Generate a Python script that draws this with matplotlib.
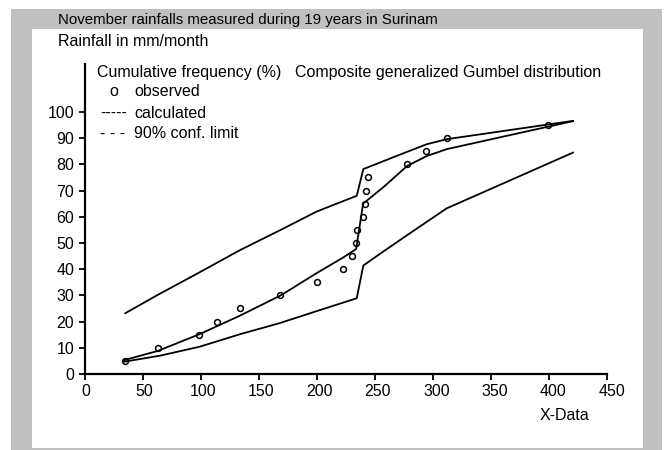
import matplotlib
matplotlib.use("Agg")
import matplotlib.pyplot as plt
import matplotlib.transforms as mtransforms
from matplotlib.patches import Rectangle

plt.rcParams['font.family'] = ['Liberation Sans', 'DejaVu Sans']

# observed points (rainfall mm/month, cumulative frequency %)
obs_x = [34.5, 62.9, 98.8, 113.8, 133.6, 168.6, 200.3, 222.7, 230.7, 234.2,
         235.0, 240.0, 241.6, 242.5, 244.5, 277.8, 293.9, 312.0, 399.5]
obs_y = [5, 10, 15, 20, 25, 30, 35, 40, 45, 50, 55, 60, 65, 70, 75, 80, 85, 90, 95]

# calculated curve
calc_x = [34, 63, 99, 134, 169, 200, 223, 234, 240, 258, 278, 295, 312, 421]
calc_y = [5.3, 8.8, 15.2, 22.3, 30.0, 38.5, 44.5, 47.7, 65.0, 71.5, 79.4, 83.2, 85.8, 96.5]

# upper 90% confidence limit
up_x = [35, 63, 99, 134, 169, 200, 234.5, 240.2, 278, 295, 312, 421]
up_y = [23.2, 30.2, 38.8, 47.3, 55.0, 62.0, 68.0, 78.2, 84.8, 87.7, 89.6, 96.6]

# lower 90% confidence limit
lo_x = [34, 65, 99, 134, 168, 200, 234.5, 240.2, 255, 278, 312, 421]
lo_y = [4.7, 7.0, 10.4, 15.2, 19.4, 24.0, 28.9, 41.4, 46.0, 53.0, 63.2, 84.5]

x_ticks = [0, 50, 100, 150, 200, 250, 300, 350, 400, 450]
y_ticks = [0, 10, 20, 30, 40, 50, 60, 70, 80, 90, 100]

W, H = 667, 450
fig = plt.figure(figsize=(W / 100, H / 100), dpi=100)
fig.patch.set_facecolor('white')

def fx(px):
    return px / W

def fy(py):
    return 1 - py / H

# gray frame and white panel
fig.patches.append(Rectangle((fx(11), fy(450)), fx(662) - fx(11), fy(9) - fy(450),
                             transform=fig.transFigure, facecolor='#c0c0c0',
                             edgecolor='none', zorder=-2))
fig.patches.append(Rectangle((fx(32), fy(447.5)), fx(643) - fx(32), fy(29) - fy(447.5),
                             transform=fig.transFigure, facecolor='white',
                             edgecolor='none', zorder=-1))

ax = fig.add_axes([fx(84.7), fy(374), fx(606.7) - fx(84.7), fy(64) - fy(374)])
ax.set_facecolor('none')
ax.set_zorder(2)

lw = 1.3
ax.plot(calc_x, calc_y, color='black', lw=lw)
ax.plot(up_x, up_y, color='black', lw=lw)
ax.plot(lo_x, lo_y, color='black', lw=lw)
ax.plot(obs_x, obs_y, linestyle='none', marker='o', markersize=4.2,
        markerfacecolor='none', markeredgecolor='black', markeredgewidth=1.1)

ax.set_xlim(0, 450)
ax.set_ylim(0, 118.3)
ax.set_xticks(x_ticks)
ax.set_yticks(y_ticks)
for s in ['top', 'right']:
    ax.spines[s].set_visible(False)
for s in ['left', 'bottom']:
    ax.spines[s].set_linewidth(1.6)
ax.tick_params(direction='out', length=4.5, width=1.3, labelsize=11.5, pad=3)

# x tick labels sit slightly right of their ticks in the reference
for i, lab in enumerate(ax.get_xticklabels()):
    shift = 1 + 4 * i / (len(x_ticks) - 1)
    lab.set_transform(lab.get_transform() +
                      mtransforms.ScaledTranslation(shift / 100, 0, fig.dpi_scale_trans))

fs = 11.5
fig.text(fx(58), fy(20), 'November rainfalls measured during 19 years in Surinam',
         fontsize=10.8, va='center', ha='left')
fig.text(fx(58), fy(42), 'Rainfall in mm/month', fontsize=fs, va='center', ha='left')
fig.text(fx(97), fy(72), 'Cumulative frequency (%)', fontsize=fs, va='center', ha='left')
fig.text(fx(295), fy(72), 'Composite generalized Gumbel distribution',
         fontsize=fs, va='center', ha='left')
fig.text(fx(109), fy(92), 'o', fontsize=fs, va='center', ha='left')
fig.text(fx(134), fy(92), 'observed', fontsize=fs, va='center', ha='left')
fig.text(fx(100), fy(113), '-----', fontsize=fs, va='center', ha='left')
fig.text(fx(134), fy(113), 'calculated', fontsize=fs, va='center', ha='left')
fig.text(fx(100), fy(133), '- - -', fontsize=fs, va='center', ha='left')
fig.text(fx(134), fy(133), '90% conf. limit', fontsize=fs, va='center', ha='left')
fig.text(fx(565), fy(416), 'X-Data', fontsize=fs, va='center', ha='center')

fig.savefig('out.png', dpi=100, facecolor='white')
